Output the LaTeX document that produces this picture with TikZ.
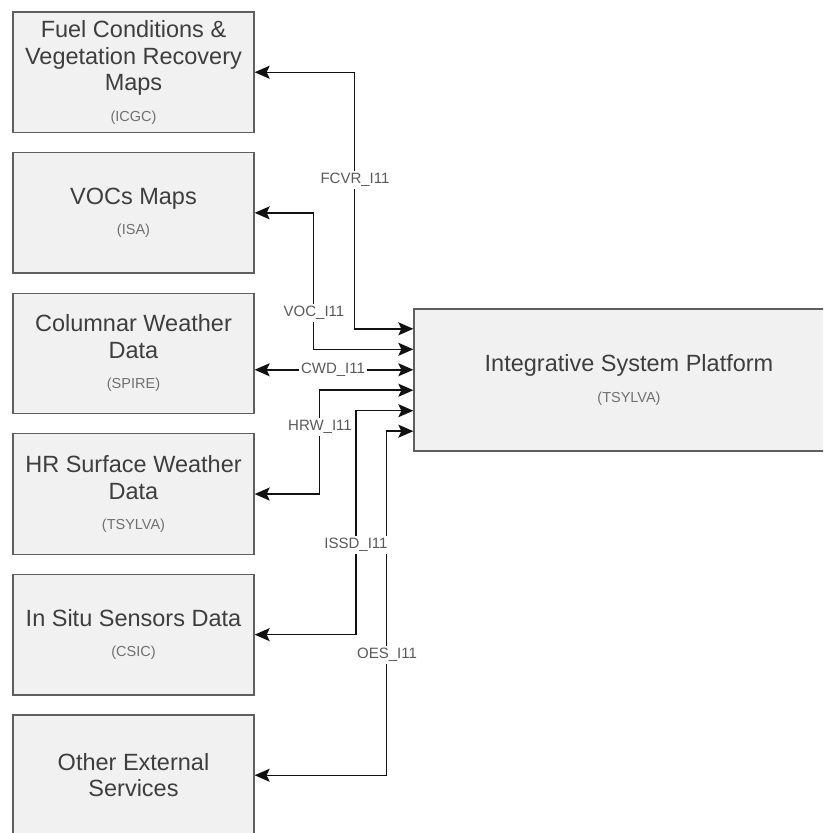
\documentclass[tikz,border=0pt]{standalone}
\usepackage{fontspec}
\setmainfont{Liberation Sans}
\usetikzlibrary{arrows.meta,calc}
\definecolor{boxfill}{HTML}{F1F1F1}
\definecolor{boxline}{HTML}{5F5F5F}
\definecolor{maintext}{HTML}{3E3E3E}
\definecolor{subtext}{HTML}{707070}
\definecolor{labtext}{HTML}{5A5A5A}
\definecolor{linkcol}{HTML}{111111}
\newcommand{\subt}[1]{{\fontsize{14.5}{16}\selectfont\color{subtext}#1}}
\tikzset{
  lbox/.style={draw=boxline,line width=1.3pt,fill=boxfill,minimum width=241pt,minimum height=120.5pt,
    inner sep=0pt,align=center,text=maintext,font=\fontsize{23.5}{26.5}\selectfont},
  pbox/.style={lbox,minimum width=430pt,minimum height=142pt},
  link/.style={draw=linkcol,line width=1.5pt,
    arrows={Stealth[length=15pt,width=13pt,inset=3pt]-Stealth[length=15pt,width=13pt,inset=3pt]}},
  lab/.style={fill=white,text=labtext,font=\fontsize{15}{17}\selectfont,inner sep=2pt}
}
\begin{document}
\begin{tikzpicture}[x=1pt,y=-1pt]
\useasboundingbox (0,0) rectangle (823,833);
\clip (0,0) rectangle (823,833);
\fill[white] (0,0) rectangle (823,833);

\node[lbox] (b1) at (133.5,72.25) {Fuel Conditions \&\\Vegetation Recovery\\Maps\\[4pt]\subt{(ICGC)}};
\node[lbox] (b2) at (133.5,212.85) {VOCs Maps\\[4pt]\subt{(ISA)}};
\node[lbox] (b3) at (133.5,353.45) {Columnar Weather\\Data\\[4pt]\subt{(SPIRE)}};
\node[lbox] (b4) at (133.5,494.05) {HR Surface Weather\\Data\\[4pt]\subt{(TSYLVA)}};
\node[lbox] (b5) at (133.5,634.65) {In Situ Sensors Data\\[4pt]\subt{(CSIC)}};
\node[lbox] (b6) at (133.5,775.25) {Other External\\Services};

\node[pbox] (plat) at (629,380) {Integrative System Platform\\[5pt]\subt{(TSYLVA)}};

\foreach \k in {1,...,6}{
  \coordinate (pp\k) at ($(plat.north west)!\k/7!(plat.south west)$);
}

\draw[link] (b1.east) -| ([xshift=-59pt]pp1) -- (pp1);
\draw[link] (b2.east) -| ([xshift=-100pt]pp2) -- (pp2);
\draw[link] (b3.east |- pp3) -- (pp3);
\draw[link] (b4.east) -| ([xshift=-94pt]pp4) -- (pp4);
\draw[link] (b5.east) -| ([xshift=-57.3pt]pp5) -- (pp5);
\draw[link] (b6.east) -| ([xshift=-27pt]pp6) -- (pp6);

\node[lab] (l1) at (355,180) {FCVR\_I11};
\node[lab] (l2) at (314,313) {VOC\_I11};
\node[lab] (l3) at (333,369.9) {CWD\_I11};
\node[lab] (l4) at (320,427) {HRW\_I11};
\node[lab] (l5) at (356,545) {ISSD\_I11};
\node[lab] (l6) at (387,655) {OES\_I11};
\end{tikzpicture}
\end{document}
